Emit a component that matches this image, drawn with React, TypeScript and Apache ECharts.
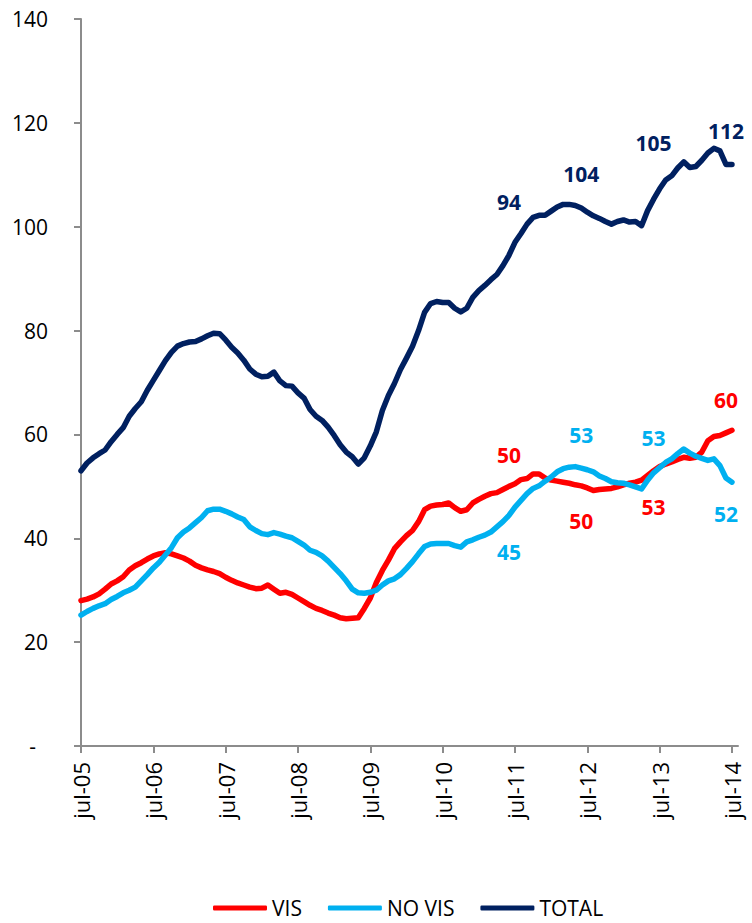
import React, { useEffect, useRef } from "react";
import * as echarts from "echarts";

const MONTHS = ["ene", "feb", "mar", "abr", "may", "jun", "jul", "ago", "sep", "oct", "nov", "dic"];
const START_YEAR = 2005;
const START_MONTH = 6; // jul
const N_CATEGORIES = 110; // jul-05 .. ago-14

const categories: string[] = [];
for (let k = 0; k < N_CATEGORIES; k++) {
  const m = (START_MONTH + k) % 12;
  const y = START_YEAR + Math.floor((START_MONTH + k) / 12);
  categories.push(`${MONTHS[m]}-${String(y % 100).padStart(2, "0")}`);
}

const yTicks = [0, 20, 40, 60, 80, 100, 120, 140];

const vis = [
  28, 28.3, 28.7, 29.3, 30.2, 31.2, 31.8, 32.6, 33.9, 34.7, 35.3, 36, 36.6, 37, 37.2, 37, 36.6, 36.2, 35.6, 34.8,
  34.3, 33.9, 33.6, 33.2, 32.5, 31.9, 31.4, 31, 30.6, 30.3, 30.4, 31, 30.2, 29.4, 29.6, 29.2, 28.5, 27.8, 27.1, 26.5,
  26.1, 25.6, 25.2, 24.7, 24.5, 24.6, 24.7, 26.5, 28.5, 31.5, 33.8, 35.8, 38, 39.3, 40.5, 41.5, 43.2, 45.5, 46.2, 46.4,
  46.5, 46.8, 45.9, 45.2, 45.5, 46.8, 47.5, 48.1, 48.6, 48.8, 49.4, 50, 50.5, 51.3, 51.5, 52.4, 52.4, 51.6, 51.2, 51,
  50.8, 50.6, 50.3, 50.1, 49.7, 49.2, 49.4, 49.5, 49.6, 49.9, 50.3, 50.6, 50.8, 51.2, 52.1, 53, 53.8, 54.3, 54.7, 55.2,
  55.6, 55.4, 55.6, 56.6, 58.8, 59.6, 59.8, 60.3, 60.8,
];

const noVis = [
  25.2, 25.9, 26.5, 27, 27.4, 28.2, 28.8, 29.5, 30, 30.6, 31.8, 33, 34.3, 35.4, 36.8, 38.2, 40.1, 41.2, 42, 43,
  44, 45.3, 45.6, 45.6, 45.2, 44.7, 44.1, 43.6, 42.2, 41.5, 40.9, 40.7, 41.1, 40.8, 40.4, 40.1, 39.4, 38.7, 37.7, 37.3,
  36.6, 35.6, 34.4, 33.2, 31.8, 30.2, 29.5, 29.4, 29.6, 30, 31, 31.8, 32.2, 33, 34.2, 35.5, 37, 38.4, 38.9, 39,
  39, 39, 38.6, 38.3, 39.3, 39.7, 40.2, 40.6, 41.2, 42.2, 43.2, 44.4, 46, 47.3, 48.6, 49.6, 50.1, 51, 51.8, 52.8,
  53.4, 53.7, 53.8, 53.5, 53.2, 52.8, 52, 51.5, 50.9, 50.7, 50.6, 50.3, 49.9, 49.5, 51.2, 52.6, 53.6, 54.6, 55.3, 56.3,
  57.2, 56.4, 55.8, 55.4, 55, 55.3, 54, 51.6, 50.8,
];

const total = [
  53, 54.5, 55.5, 56.3, 57, 58.6, 60, 61.3, 63.5, 65, 66.3, 68.5, 70.4, 72.3, 74.2, 75.8, 77, 77.5, 77.8, 77.9,
  78.4, 79, 79.5, 79.4, 78.2, 76.8, 75.7, 74.3, 72.6, 71.6, 71.1, 71.2, 72, 70.3, 69.4, 69.3, 68, 67, 64.8, 63.5,
  62.7, 61.4, 59.8, 58, 56.6, 55.7, 54.3, 55.5, 57.8, 60.5, 64.6, 67.5, 69.8, 72.5, 74.7, 77, 80, 83.5, 85.2, 85.6,
  85.4, 85.4, 84.3, 83.6, 84.3, 86.4, 87.7, 88.7, 89.8, 90.8, 92.5, 94.5, 97, 98.7, 100.5, 101.8, 102.2, 102.2, 103, 103.8,
  104.3, 104.3, 104.1, 103.6, 102.8, 102.1, 101.6, 101, 100.5, 101, 101.3, 100.9, 101, 100.2, 103.1, 105.3, 107.3, 109, 109.8, 111.3,
  112.5, 111.4, 111.6, 112.8, 114.2, 115.1, 114.6, 112, 112,
];

// Annotations: [category index, anchor value, text]
const visNotes: [number, number, string][] = [
  [71, 56.0, "50"],
  [83, 43.3, "50"],
  [95, 46.0, "53"],
  [107, 66.6, "60"],
];
const noVisNotes: [number, number, string][] = [
  [71, 37.4, "45"],
  [83, 59.9, "53"],
  [95, 59.3, "53"],
  [107, 44.7, "52"],
];
const totalNotes: [number, number, string][] = [
  [71, 104.8, "94"],
  [83, 110.1, "104"],
  [95, 116.1, "105"],
  [107, 118.4, "112"],
];

const RED = "#FF0000";
const BLUE = "#00B0F0";
const NAVY = "#002060";
const AXIS = "#8C8C8C";
const FONT = "'Open Sans', sans-serif";

function notes(list: [number, number, string][], color: string) {
  return {
    symbol: "circle",
    symbolSize: 1,
    itemStyle: { color: "rgba(0,0,0,0)" },
    silent: true,
    label: {
      show: true,
      position: "inside",
      color,
      fontFamily: FONT,
      fontWeight: "bold",
      fontSize: 21,
      formatter: (p: any) => p.name,
    },
    data: list.map(([i, v, t]) => ({ coord: [i, v], name: t, value: t })),
  };
}

function lineSeries(name: string, data: number[], color: string, list: [number, number, string][]) {
  return {
    name,
    type: "line",
    data,
    symbol: "none",
    showSymbol: false,
    color,
    lineStyle: { color, width: 5.5, join: "round", cap: "round" },
    markPoint: notes(list, color),
  };
}

export default function App() {
  const ref = useRef<HTMLDivElement>(null);
  useEffect(() => {
    if (!ref.current) return;
    const chart = echarts.init(ref.current, undefined, { renderer: "svg" });
    chart.setOption({
      animation: false,
      backgroundColor: "#fff",
      grid: { left: 81, right: 14, top: 19, bottom: 177, containLabel: false },
      legend: {
        left: 213,
        top: 896,
        padding: 0,
        icon: "roundRect",
        itemWidth: 54,
        itemHeight: 5,
        itemGap: 26,
        textStyle: { fontFamily: FONT, fontSize: 21, lineHeight: 24, color: "#000" },
        data: ["VIS", "NO VIS", "TOTAL"],
      },
      xAxis: {
        type: "category",
        data: categories,
        boundaryGap: false,
        axisLine: { lineStyle: { color: AXIS, width: 2 } },
        axisTick: { show: true, interval: 11, length: 7, lineStyle: { color: AXIS, width: 2 } },
        axisLabel: {
          interval: 11,
          rotate: 90,
          margin: 16,
          fontFamily: FONT,
          fontSize: 22,
          color: "#000",
        },
        splitLine: { show: false },
      },
      yAxis: {
        type: "value",
        min: yTicks[0],
        max: yTicks[yTicks.length - 1],
        interval: 20,
        axisLine: { show: true, lineStyle: { color: AXIS, width: 2 } },
        axisTick: { show: true, length: 7, lineStyle: { color: AXIS, width: 2 } },
        axisLabel: {
          margin: 33,
          fontFamily: FONT,
          fontSize: 21,
          color: "#000",
          formatter: (v: number) => (v === 0 ? "{d|-}" : String(v)),
          rich: { d: { fontFamily: FONT, fontSize: 21, color: "#000", padding: [0, 12, 0, 0] } },
        },
        splitLine: { show: false },
      },
      series: [
        lineSeries("VIS", vis, RED, visNotes),
        lineSeries("NO VIS", noVis, BLUE, noVisNotes),
        lineSeries("TOTAL", total, NAVY, totalNotes),
      ],
    });
    return () => chart.dispose();
  }, []);
  return <div ref={ref} style={{ position: "absolute", left: 0, top: 0, width: 752, height: 923 }} />;
}
